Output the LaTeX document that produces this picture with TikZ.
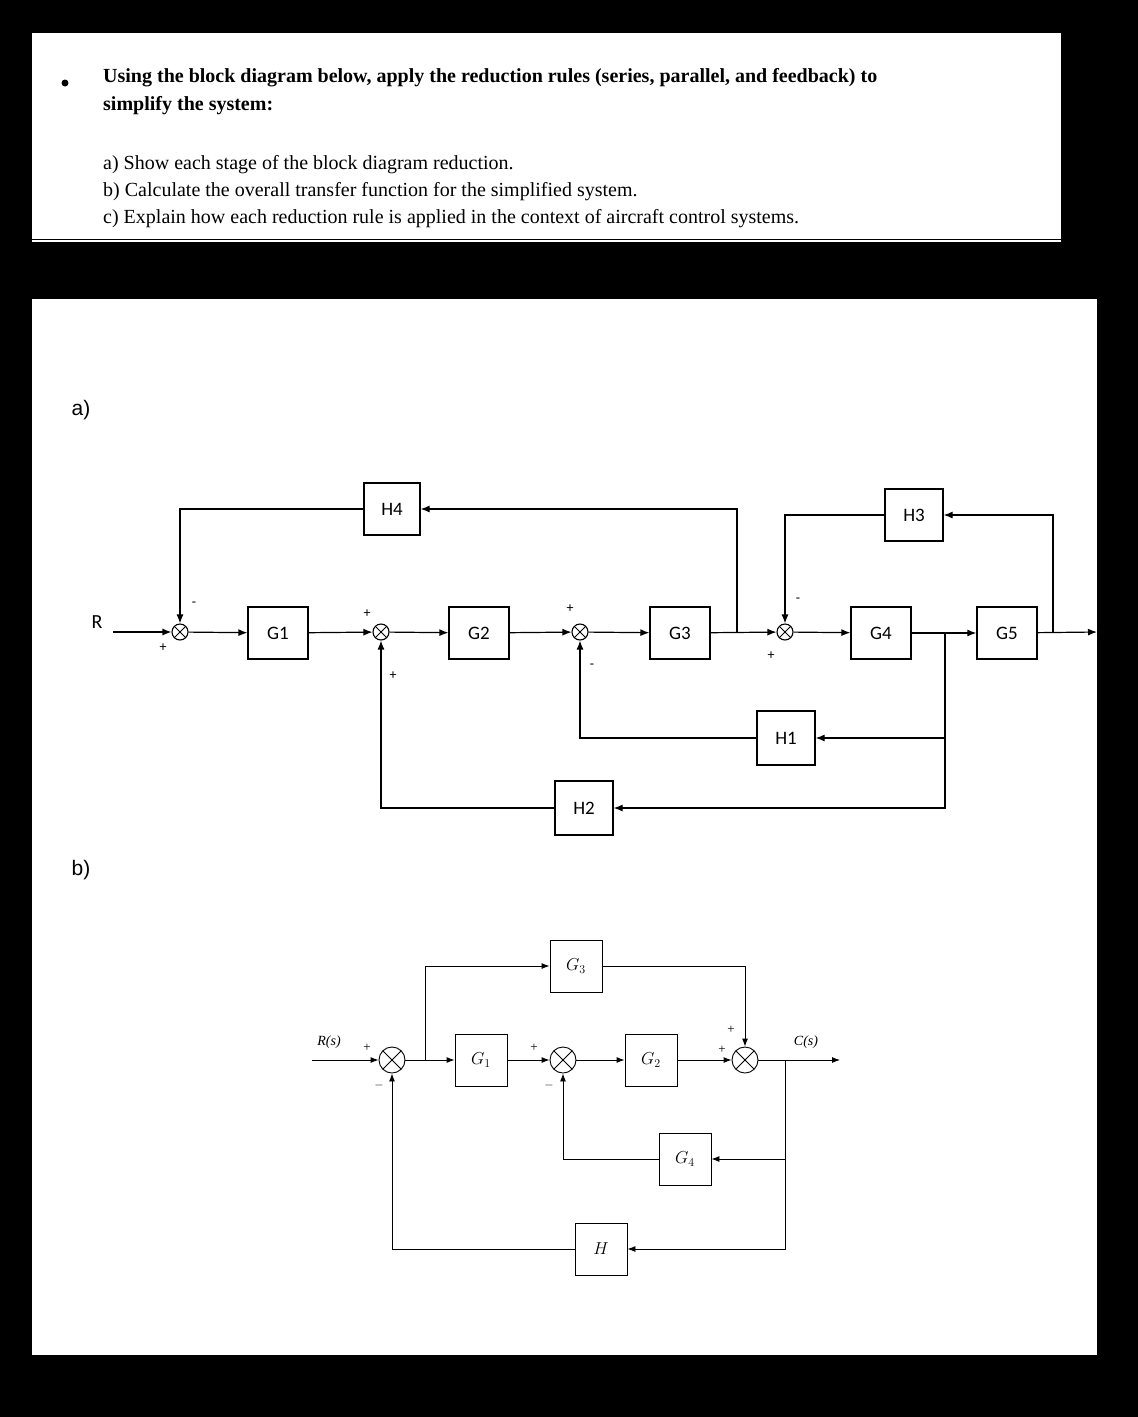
\documentclass[tikz,border=0pt]{standalone}
\usepackage{fontspec}
\setmainfont{Liberation Serif}
\newfontfamily\arial{Liberation Sans}
\newfontfamily\carl{Carlito}
\usetikzlibrary{arrows.meta}
\begin{document}
\begin{tikzpicture}[x=1pt,y=-1pt,
  blk/.style={draw,line width=1.2pt,minimum width=60pt,minimum height=52pt,inner sep=0pt,font=\carl\fontsize{19}{19}\selectfont},
  blkb/.style={draw,line width=0.9pt,minimum width=52pt,minimum height=52pt,inner sep=0pt,font=\fontsize{17}{17}\selectfont\itshape},
  sj/.style={draw,circle,line width=1.1pt,minimum size=16pt,inner sep=0pt,path picture={\draw[line width=0.8pt] (path picture bounding box.north west)--(path picture bounding box.south east) (path picture bounding box.north east)--(path picture bounding box.south west);}},
  sjb/.style={sj,minimum size=26pt,line width=0.9pt},
  ln/.style={line width=1.2pt},
  ar/.style={line width=1.2pt,-{Latex[length=9pt,width=7pt]}},
  lnb/.style={line width=0.9pt},
  arb/.style={line width=0.9pt,-{Latex[length=8pt,width=6pt]}},
  sg/.style={font=\carl\fontsize{14}{14}\selectfont,inner sep=0pt},
  sgb/.style={font=\fontsize{13}{13}\selectfont,inner sep=0pt}]
\fill[black] (0,0) rectangle (1138,1417);
\fill[white] (32,33) rectangle (1061,242);
\draw[line width=1pt] (32,239)--(1061,239);
\fill[white] (32,299) rectangle (1097,1355);
% top text
\fill (65,83) circle (3.5pt);
\node[anchor=north west,inner sep=0pt,align=left,font=\fontsize{20}{28}\selectfont\bfseries] (q) at (103,68) {Using the block diagram below, apply the reduction rules (series, parallel, and feedback) to\\simplify the system:};
\node[anchor=north west,inner sep=0pt,align=left,font=\fontsize{20}{27}\selectfont] (qa) at (103,155) {a) Show each stage of the block diagram reduction.\\b) Calculate the overall transfer function for the simplified system.\\c) Explain how each reduction rule is applied in the context of aircraft control systems.};
\node[font=\arial\fontsize{21}{21}\selectfont] (la) at (81,410) {a)};
\node[font=\arial\fontsize{21}{21}\selectfont] (lb) at (81,870) {b)};
% diagram a
\node[font=\carl\fontsize{20}{20}\selectfont] (R) at (97,622) {R};
\node[sj] (s1) at (180,632) {};
\node[blk] (G1) at (278,633) {G1};
\node[sj] (s2) at (381,632) {};
\node[blk] (G2) at (479,633) {G2};
\node[sj] (s3) at (580,632) {};
\node[blk] (G3) at (680,633) {G3};
\node[sj] (s4) at (785,632) {};
\node[blk] (G4) at (881,633) {G4};
\node[blk] (G5) at (1007,633) {G5};
\node[blk,minimum width=56pt] (H4) at (392,509) {H4};
\node[blk,minimum width=58pt] (H3) at (914,515) {H3};
\node[blk,minimum width=58pt,minimum height=54pt] (H1) at (786,738) {H1};
\node[blk,minimum width=58pt,minimum height=54pt] (H2) at (584,808) {H2};
\coordinate (in) at (113,632);
\coordinate (out) at (1097,632);
\coordinate (b3) at (737,632);
\coordinate (b4) at (945,632);
\coordinate (b5) at (1053,632);
\draw[ar] (in)--(s1);
\draw[ar] (s1)--(G1);
\draw[ar] (G1)--(s2);
\draw[ar] (s2)--(G2);
\draw[ar] (G2)--(s3);
\draw[ar] (s3)--(G3);
\draw[ar] (G3)--(s4);
\draw[ar] (s4)--(G4);
\draw[ar] (G4)--(G5);
\draw[ar] (G5)--(out);
\draw[ar] (b3)|-(H4);
\draw[ar] (H4)-|(s1);
\draw[ar] (b5)|-(H3);
\draw[ar] (H3)-|(s4);
\draw[ar] (b4)|-(H1);
\draw[ar] (H1)-|(s3);
\draw[ar] (b4)|-(H2);
\draw[ar] (H2)-|(s2);
\node[sg] (p1a) at (194,604) {-};
\node[sg] (p1b) at (163,648) {+};
\node[sg] (p2a) at (367,614) {+};
\node[sg] (p2b) at (393,676) {+};
\node[sg] (p3a) at (570,609) {+};
\node[sg] (p3b) at (592,666) {-};
\node[sg] (p4a) at (798,600) {-};
\node[sg] (p4b) at (771,656) {+};
% diagram b
\node[sjb] (t1) at (392,1060) {};
\node[blkb] (B1) at (481,1060) {$G_1$};
\node[sjb] (t2) at (563,1060) {};
\node[blkb] (B2) at (651,1060) {$G_2$};
\node[sjb] (t3) at (745,1060) {};
\node[blkb] (B3) at (576,966) {$G_3$};
\node[blkb] (B4) at (685,1159) {$G_4$};
\node[blkb] (BH) at (601,1249) {$H$};
\coordinate (bin) at (312,1060);
\coordinate (bout) at (840,1060);
\coordinate (c1) at (425,1060);
\coordinate (c2) at (785,1060);
\node[font=\fontsize{14}{14}\selectfont\itshape,anchor=south] (Rs) at (329,1052) {R(s)};
\node[font=\fontsize{14}{14}\selectfont\itshape,anchor=south] (Cs) at (806,1052) {C(s)};
\draw[arb] (bin)--(t1);
\draw[arb] (t1)--(B1);
\draw[arb] (B1)--(t2);
\draw[arb] (t2)--(B2);
\draw[arb] (B2)--(t3);
\draw[arb] (t3)--(bout);
\draw[arb] (c1)|-(B3);
\draw[arb] (B3)-|(t3);
\draw[arb] (c2)|-(B4);
\draw[arb] (B4)-|(t2);
\draw[arb] (c2)|-(BH);
\draw[arb] (BH)-|(t1);
\node[sgb] (q1a) at (367,1048) {+};
\node[sgb] (q1b) at (379,1085) {$-$};
\node[sgb] (q2a) at (534,1048) {+};
\node[sgb] (q2b) at (549,1085) {$-$};
\node[sgb] (q3a) at (731,1030) {+};
\node[sgb] (q3b) at (722,1050) {+};
\end{tikzpicture}
\end{document}
